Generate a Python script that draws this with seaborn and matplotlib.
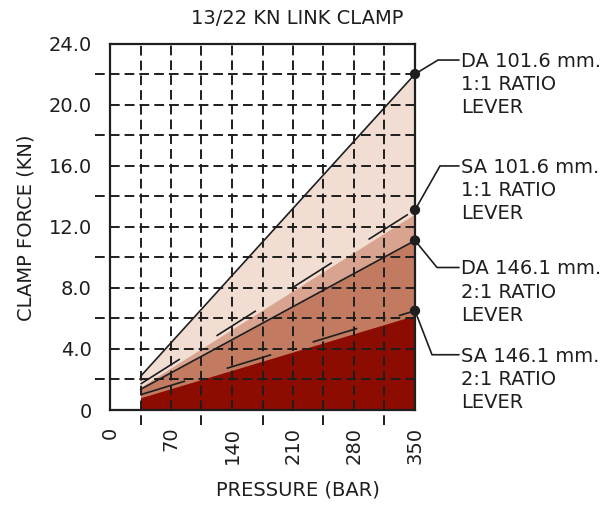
import matplotlib
matplotlib.use("Agg")
import matplotlib.pyplot as plt
import seaborn as sns

# values
pressure = [35, 350]
da_1016 = [2.2, 22.0]
sa_1016 = [1.7, 13.1]
da_1461 = [1.35, 11.1]
sa_1461 = [1.0, 6.5]
# filled bands sit a little under the dashed SA lines
sa_1016_fill = [1.5, 12.85]
sa_1461_fill = [0.8, 6.2]

x_ticks = [0, 70, 140, 210, 280, 350]
x_grid = [35, 105, 175, 245, 315]
y_ticks = [0, 4, 8, 12, 16, 20, 24]
y_tick_labels = ["0", "4.0", "8.0", "12.0", "16.0", "20.0", "24.0"]
y_grid = [2, 6, 10, 14, 18, 22]

series = [
    ("DA 101.6 mm.\n1:1 RATIO\nLEVER", da_1016, (23, 14)),
    ("SA 101.6 mm.\n1:1 RATIO\nLEVER", sa_1016, (25, 44)),
    ("DA 146.1 mm.\n2:1 RATIO\nLEVER", da_1461, (22, -27)),
    ("SA 146.1 mm.\n2:1 RATIO\nLEVER", sa_1461, (17, -44)),
]

band_colors = ["#f2ddd3", "#d9a48f", "#c27a60", "#8c0c02"]
ink = "#1e1e1e"

sns.set_style("white")
plt.rcParams["font.family"] = ["DejaVu Sans"]

fig = plt.figure(figsize=(6.13, 5.05), dpi=100)
ax = fig.add_axes([110 / 613, 95 / 505, 305 / 613, 366.5 / 505])
ax.set_xlim(0, 350)
ax.set_ylim(0, 24)

# pixel -> data scale, used for the leader lines and tick extensions
sx = 350 / 305
sy = 24 / 366.5

# stacked bands
ax.fill_between(pressure, 0, da_1016, color=band_colors[0], lw=0, zorder=1)
ax.fill_between(pressure, 0, sa_1016_fill, color=band_colors[1], lw=0, zorder=1.1)
ax.fill_between(pressure, 0, da_1461, color=band_colors[2], lw=0, zorder=1.2)
ax.fill_between(pressure, 0, sa_1461_fill, color=band_colors[3], lw=0, zorder=1.3)

# dashed grid, the minor ones run out past the axes like ticks
grid_style = dict(color=ink, lw=1.4, linestyle=(0, (5, 2.6)), zorder=2)
for y in y_grid + y_ticks[1:-1]:
    x0 = -15 * sx if y in y_grid else 0
    ax.plot([x0, 350], [y, y], clip_on=False, **grid_style)
for x in x_grid + x_ticks[1:-1]:
    y0 = -15 * sy if x in x_grid else 0
    ax.plot([x, x], [y0, 24], clip_on=False, **grid_style)

# clamp force lines
for i, (label, vals, _) in enumerate(series):
    ls = "-" if label.startswith("DA") else (0, (28, 26))
    sns.lineplot(x=pressure, y=vals, ax=ax, color=ink, lw=1.2,
                 linestyle=ls, zorder=3)

# end dots and leader labels
ends = [s[1][-1] for s in series]
sns.scatterplot(x=[pressure[-1]] * len(ends), y=ends, ax=ax, color=ink,
                s=55, edgecolor="none", zorder=5, clip_on=False)
for label, vals, (kx, ky) in series:
    xe, ye = pressure[-1], vals[-1]
    ax.plot([xe, xe + kx * sx, xe + 44 * sx],
            [ye, ye + ky * sy, ye + ky * sy],
            color=ink, lw=1.2, clip_on=False, zorder=4)
    ax.text(xe + 46 * sx, ye + (ky + 8) * sy, label, fontsize=14,
            color=ink, ha="left", va="top", linespacing=1.28)

for side in ["left", "right", "top", "bottom"]:
    ax.spines[side].set_color(ink)
    ax.spines[side].set_linewidth(1.6)
    ax.spines[side].set_zorder(4)

ax.set_xticks(x_ticks)
ax.set_xticklabels([str(v) for v in x_ticks], rotation=90)
ax.set_yticks(y_ticks)
ax.set_yticklabels(y_tick_labels)
ax.tick_params(axis="both", direction="out", length=11, width=1.6,
               color=ink, labelcolor=ink, labelsize=14)
ax.tick_params(axis="y", pad=2)
ax.tick_params(axis="x", pad=1)
ax.set_xlabel("")
ax.set_ylabel("")

fig.text(297 / 613, 1 - 18 / 505, "13/22 KN LINK CLAMP", fontsize=14,
         color=ink, ha="center", va="center")
fig.text(298 / 613, 1 - 490 / 505, "PRESSURE (BAR)", fontsize=14,
         color=ink, ha="center", va="center")
fig.text(26 / 613, 1 - 228 / 505, "CLAMP FORCE (KN)", fontsize=14,
         color=ink, ha="center", va="center", rotation=90)

fig.savefig("out.png", dpi=100)
